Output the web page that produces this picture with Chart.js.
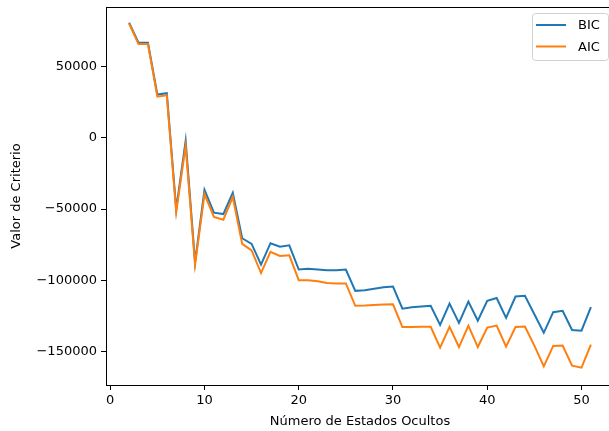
<!DOCTYPE html>
<html lang="es">
<head>
    <meta charset="UTF-8">
    <title>Criterios BIC / AIC</title>
    <script src="https://cdn.jsdelivr.net/npm/chart.js"></script>
    <style>
        body, html {
            margin: 0;
            padding: 0;
            background: #fff;
            overflow: hidden;
        }
        #criterios {
            display: block;
        }
    </style>
</head>
<body>

    <canvas id="criterios" width="615" height="431"></canvas>

    <script>
        // número de estados ocultos probados
        var estados = [2, 3, 4, 5, 6, 7, 8, 9, 10, 11, 12, 13, 14, 15, 16, 17, 18, 19, 20, 21,
                       22, 23, 24, 25, 26, 27, 28, 29, 30, 31, 32, 33, 34, 35, 36, 37, 38, 39, 40, 41,
                       42, 43, 44, 45, 46, 47, 48, 49, 50, 51];

        var bic = [81000, 67000, 67000, 30500, 31500, -50000, -2000, -87500, -36500, -52500,
                   -53500, -38500, -70500, -74500, -89000, -74000, -76500, -75500, -92500, -92000,
                   -92500, -93000, -93000, -92500, -107500, -107000, -106000, -105000, -104500, -120000,
                   -119000, -118500, -118000, -131500, -116500, -130000, -115000, -128500, -114500, -112500,
                   -126500, -111500, -111000, -124000, -137000, -122500, -121500, -135000, -135500, -119000];

        var aic = [80500, 66000, 66000, 29000, 30000, -52000, -5500, -89000, -39500, -55500,
                   -57500, -41500, -74500, -79000, -95000, -80000, -83000, -82500, -100000, -100000,
                   -100800, -102000, -102300, -102300, -118000, -117800, -117400, -117100, -117000, -133000,
                   -133000, -132800, -132800, -147400, -132800, -147000, -132000, -147000, -133300, -131900,
                   -146700, -132900, -132600, -146000, -160600, -146200, -146000, -160100, -161500, -145300];

        var xTicks = [0, 10, 20, 30, 40, 50];
        var yTicks = [-150000, -100000, -50000, 0, 50000];

        var fuente = { family: 'DejaVu Sans', size: 13 };
        var negro = '#000';

        function puntos(valores) {
            return estados.map(function (e, i) { return { x: e, y: valores[i] }; });
        }

        // línea superior del marco (el lado derecho cae fuera de la ventana)
        var marco = {
            id: 'marco',
            afterDatasetsDraw: function (chart) {
                var a = chart.chartArea, ctx = chart.ctx;
                ctx.save();
                ctx.strokeStyle = negro;
                ctx.lineWidth = 1;
                ctx.beginPath();
                ctx.moveTo(a.left, a.top + 0.5);
                ctx.lineTo(a.right, a.top + 0.5);
                ctx.stroke();
                ctx.restore();
            }
        };

        // leyenda dentro del área, esquina superior derecha
        var leyenda = {
            id: 'leyenda',
            afterDraw: function (chart) {
                var ctx = chart.ctx;
                var x = 532.5, y = 13.5, w = 76, h = 47;
                ctx.save();
                ctx.beginPath();
                ctx.roundRect(x, y, w, h, 3);
                ctx.fillStyle = 'rgba(255,255,255,0.8)';
                ctx.fill();
                ctx.strokeStyle = '#d0d0d0';
                ctx.lineWidth = 1;
                ctx.stroke();
                ctx.font = '13px "DejaVu Sans"';
                ctx.textBaseline = 'middle';
                ctx.fillStyle = negro;
                [chart.data.datasets[0], chart.data.datasets[1]].forEach(function (ds, i) {
                    var ly = 25 + i * 21.5;
                    ctx.strokeStyle = ds.borderColor;
                    ctx.lineWidth = 2;
                    ctx.beginPath();
                    ctx.moveTo(536, ly);
                    ctx.lineTo(566, ly);
                    ctx.stroke();
                    ctx.fillText(ds.label, 578, ly + 1);
                });
                ctx.restore();
            }
        };

        new Chart(document.getElementById('criterios'), {
            type: 'line',
            data: {
                datasets: [{
                    label: 'BIC',
                    data: puntos(bic),
                    borderColor: '#1f77b4',
                    borderWidth: 2,
                    pointRadius: 0,
                    tension: 0,
                    order: 1
                }, {
                    label: 'AIC',
                    data: puntos(aic),
                    borderColor: '#ff7f0e',
                    borderWidth: 2,
                    pointRadius: 0,
                    tension: 0,
                    order: 0
                }]
            },
            options: {
                responsive: false,
                animation: false,
                devicePixelRatio: 1,
                layout: { padding: { top: 7, right: 1, bottom: 0, left: 0 } },
                plugins: {
                    legend: { display: false },
                    tooltip: { enabled: false }
                },
                scales: {
                    x: {
                        type: 'linear',
                        min: -0.45,
                        max: 53.45,
                        afterBuildTicks: function (scale) {
                            scale.ticks = xTicks.map(function (v) { return { value: v }; });
                        },
                        afterFit: function (scale) {
                            scale.height = 46;
                            scale.paddingLeft = 0;
                            scale.paddingRight = 0;
                        },
                        grid: {
                            drawOnChartArea: false,
                            tickLength: 5,
                            tickColor: negro
                        },
                        border: { display: true, color: negro, width: 1 },
                        ticks: { color: negro, font: fuente, padding: 3, maxRotation: 0 },
                        title: {
                            display: true,
                            text: 'Número de Estados Ocultos',
                            color: negro,
                            font: fuente,
                            padding: { top: 0, bottom: 2 }
                        }
                    },
                    y: {
                        min: -173700,
                        max: 92100,
                        afterBuildTicks: function (scale) {
                            scale.ticks = yTicks.map(function (v) { return { value: v }; });
                        },
                        afterFit: function (scale) {
                            scale.width = 106;
                            scale.paddingTop = 0;
                            scale.paddingBottom = 0;
                        },
                        grid: {
                            drawOnChartArea: false,
                            tickLength: 5,
                            tickColor: negro
                        },
                        border: { display: true, color: negro, width: 1 },
                        ticks: {
                            color: negro,
                            font: fuente,
                            padding: 4,
                            callback: function (v) {
                                return v < 0 ? '\u2212' + Math.abs(v) : String(v);
                            }
                        },
                        title: {
                            display: true,
                            text: 'Valor de Criterio',
                            color: negro,
                            font: fuente,
                            padding: { top: 9, bottom: 0 }
                        }
                    }
                }
            },
            plugins: [marco, leyenda]
        });
    </script>
</body>
</html>
